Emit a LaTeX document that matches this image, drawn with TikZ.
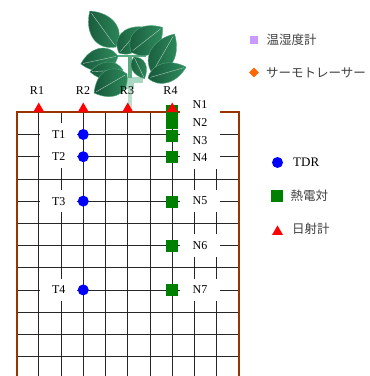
\documentclass[tikz,border=0pt]{standalone}
\usepackage{fontspec}
\setmainfont{Liberation Serif}
\newfontfamily\jpfont{Noto Sans CJK JP}
\usetikzlibrary{shapes.geometric}
\definecolor{soilbrown}{HTML}{993300}
\definecolor{tcgreen}{HTML}{008000}
\definecolor{leafdark}{HTML}{17573A}
\definecolor{leaflight}{HTML}{2F8D5E}
\definecolor{leafedge}{HTML}{4DA47A}
\definecolor{stemgreen}{HTML}{5AAA82}
\definecolor{rootgreen}{HTML}{A9D8C0}
\definecolor{hygro}{HTML}{CC99FF}
\definecolor{thermo}{HTML}{FF6600}

% one leaf: base x, base y, angle, length, width
\newcommand\plantleaf[5]{%
  \begin{scope}[shift={(#1,#2)},rotate=#3]
    \shade[left color=leafdark,right color=leaflight,draw=leafedge,line width=0.4pt]
      (0,0) .. controls (0.2*#4,0.72*#5) and (0.68*#4,0.66*#5) .. (#4,0)
            .. controls (0.68*#4,-0.66*#5) and (0.2*#4,-0.72*#5) .. (0,0) -- cycle;
    \draw[white,opacity=0.7,line width=0.35pt] (0.06*#4,0) -- (0.94*#4,0);
  \end{scope}}

\tikzset{
  gridline/.style={black!85,line width=0.8pt},
  border/.style={soilbrown,line width=2pt},
  lbl/.style={font=\fontsize{12}{12}\selectfont,inner sep=0pt},
  tlbl/.style={lbl,fill=white,minimum width=36.5pt,minimum height=22.2pt},
  nlbl/.style={lbl,fill=white,minimum width=40pt,minimum height=22.2pt},
  tdr/.style={circle,fill=blue,minimum size=11pt,inner sep=0pt},
  tc/.style={rectangle,fill=tcgreen,minimum size=12pt,inner sep=0pt},
  solar/.style={regular polygon,regular polygon sides=3,fill=red,minimum size=12.7pt,inner sep=0pt},
  legtext/.style={font=\fontsize{13}{13}\selectfont,inner sep=0pt,anchor=west},
  jptext/.style={legtext,font=\jpfont\fontsize{12.5}{13}\selectfont,text=black!75},
}

\begin{document}
\begin{tikzpicture}[x=1pt,y=-1pt]
\useasboundingbox (0,0) rectangle (370,376);
\fill[white] (0,0) rectangle (370,376);

% soil grid
\foreach \gx in {38.75,61,83.25,105.5,127.75,150,172.25,194.5,216.75}
  \draw[gridline] (\gx,112.3) -- (\gx,376);
\foreach \gy in {134.5,156.7,178.9,201.1,223.3,245.5,267.7,289.9,312.1,334.3,356.5}
  \draw[gridline] (16.5,\gy) -- (239,\gy);
\draw[border] (16.5,376) -- (16.5,112.3) -- (239,112.3) -- (239,376);

% probe labels
\node[tlbl] (t1) at (58.7,134.5) {T1};
\node[tlbl] (t2) at (58.7,156.7) {T2};
\node[tlbl] (t3) at (58.7,201.1) {T3};
\node[tlbl] (t4) at (58.7,289.9) {T4};
\node[nlbl] (n1) at (200,104.5) {N1};
\node[nlbl] (n2) at (200,122.3) {N2};
\node[nlbl] (n3) at (200,140.2) {N3};
\node[nlbl] (n4) at (200,157.7) {N4};
\node[nlbl] (n5) at (200,201.1) {N5};
\node[nlbl] (n6) at (200,245.5) {N6};
\node[nlbl] (n7) at (200,289.9) {N7};

% plant
\fill[rootgreen] (112,77) rectangle (134,89);
\fill[rootgreen] (134,77) rectangle (143,83);
\fill[rootgreen!80] (127.7,89) rectangle (131.7,112);
\fill[stemgreen] (127.7,56) rectangle (131.7,78);
\draw[stemgreen,line width=1.5pt] (118,56) -- (146,56);
\plantleaf{116}{47}{126}{44.5}{26}
\plantleaf{119}{53}{48.5}{35}{22}
\plantleaf{131}{52}{38}{40}{27}
\plantleaf{152}{73}{60}{45}{24}
\plantleaf{118}{56}{192}{38}{22}
\plantleaf{123}{70}{183}{33}{17}
\plantleaf{127}{74}{210}{38}{26}
\plantleaf{134}{57}{-64}{24}{14}
\plantleaf{148}{78}{16}{39.6}{19}

% TDR probes
\foreach \i/\yy in {1/134.5,2/156.7,3/201.1,4/289.9}
  \node[tdr] (tdr\i) at (83.25,\yy) {};
% thermocouples
\foreach \i/\yy in {1/111,2/123,3/136,4/157,5/202,6/246,7/290}
  \node[tc] (tc\i) at (172.25,\yy) {};
% solarimeters
\foreach \i/\xx in {1/38.75,2/83.25,3/127.75,4/172.25}
  \node[solar] (r\i) at (\xx,108.9) {};
\node[lbl] (rl1) at (37,91) {R1};
\node[lbl] (rl2) at (83,91) {R2};
\node[lbl] (rl3) at (127,91) {R3};
\node[lbl] (rl4) at (170.5,91) {R4};

% legend
\node[rectangle,fill=hygro,minimum size=8pt,inner sep=0pt] (lg1) at (253.5,39.5) {};
\node[jptext] (lt1) at (266.5,40) {温湿度計};
\node[diamond,fill=thermo,minimum size=10pt,inner sep=0pt] (lg2) at (254,72.5) {};
\node[jptext] (lt2) at (266,73) {サーモトレーサー};
\node[tdr] (lg3) at (277.5,162.5) {};
\node[legtext] (lt3) at (293,162) {TDR};
\node[tc] (lg4) at (277,196) {};
\node[jptext] (lt4) at (290.5,195.5) {熱電対};
\node[solar] (lg5) at (277.5,231.8) {};
\node[jptext] (lt5) at (292,228.5) {日射計};
\end{tikzpicture}
\end{document}
